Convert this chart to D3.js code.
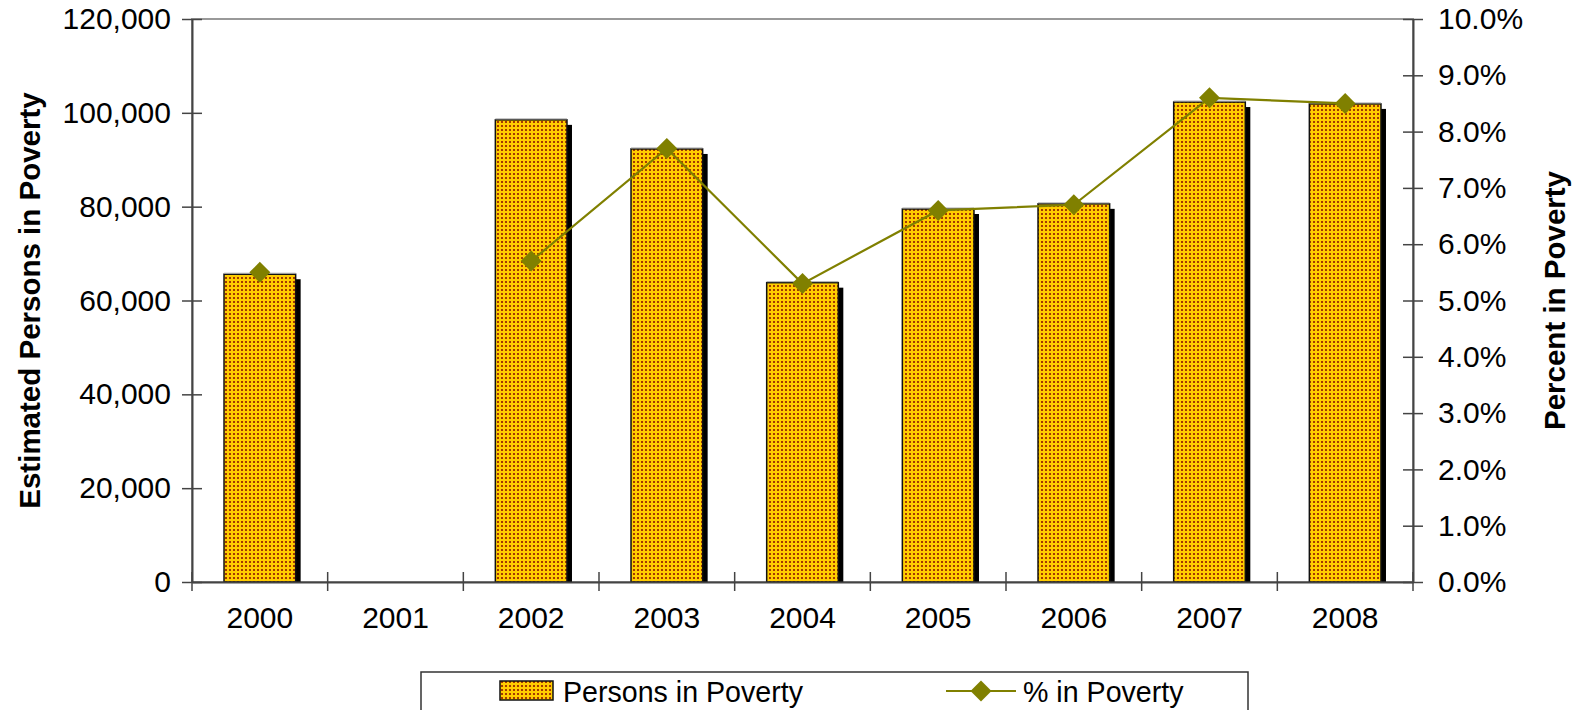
<!DOCTYPE html>
<html><head><meta charset="utf-8">
<script src="https://cdn.jsdelivr.net/npm/d3@7"></script>
<style>
html,body{margin:0;padding:0;background:#fff;}
svg{display:block;font-family:"Liberation Sans",Arial,sans-serif;}
</style></head>
<body>
<svg id="chart" width="1578" height="710"></svg>
<script>
const years = ["2000","2001","2002","2003","2004","2005","2006","2007","2008"];
const persons = [65600, null, 98500, 92300, 63800, 79500, 80600, 102300, 101900];
const pctPoverty = [5.5, null, 5.7, 7.7, 5.3, 6.6, 6.7, 8.6, 8.5];
const leftTicks = [0, 20000, 40000, 60000, 80000, 100000, 120000];
const rightTicks = [0,1,2,3,4,5,6,7,8,9,10];

const svg = d3.select("#chart");
const L = 192, R = 1413, T = 19, B = 582;

const defs = svg.append("defs");
const pat = defs.append("pattern").attr("id","dots").attr("patternUnits","userSpaceOnUse")
  .attr("width",4).attr("height",4);
pat.append("rect").attr("width",4).attr("height",4).attr("fill","#FFCC00");
pat.append("rect").attr("x",1).attr("y",1).attr("width",2).attr("height",2).attr("fill","#A33A00");

const x = d3.scaleBand().domain(years).range([L, R]).padding(0);
const y = d3.scaleLinear().domain([0,120000]).range([B, T]);
const y2 = d3.scaleLinear().domain([0,10]).range([B, T]);

svg.append("rect").attr("x",L).attr("y",T).attr("width",R-L).attr("height",B-T)
  .attr("fill","none").attr("stroke","#999").attr("stroke-width",2);

const barW = x.bandwidth()*0.528;
const data = years.map((yr,i)=>({yr, v:persons[i], p:pctPoverty[i]}));
const bars = data.filter(d=>d.v!==null);

svg.append("g").selectAll("rect").data(bars).join("rect")
  .attr("x", d=>x(d.yr)+x.bandwidth()/2-barW/2+5)
  .attr("y", d=>y(d.v)+5)
  .attr("width", barW)
  .attr("height", d=>B-y(d.v)-5)
  .attr("fill","#000");
svg.append("g").selectAll("rect").data(bars).join("rect")
  .attr("x", d=>x(d.yr)+x.bandwidth()/2-barW/2)
  .attr("y", d=>y(d.v))
  .attr("width", barW)
  .attr("height", d=>B-y(d.v))
  .attr("fill","url(#dots)")
  .attr("stroke","#111").attr("stroke-width",1.5);
svg.append("g").selectAll("line").data(bars).join("line")
  .attr("x1", d=>x(d.yr)+x.bandwidth()/2-barW/2)
  .attr("x2", d=>x(d.yr)+x.bandwidth()/2+barW/2)
  .attr("y1", d=>y(d.v)-1).attr("y2", d=>y(d.v)-1)
  .attr("stroke","#aaa").attr("stroke-width",1);

const axisColor = "#444";
const leftAxis = svg.append("g").attr("transform",`translate(${L},0)`)
  .call(d3.axisLeft(y).tickValues(leftTicks).tickFormat(d3.format(",")).tickSizeInner(10).tickSizeOuter(0).tickPadding(11));
const rightAxis = svg.append("g").attr("transform",`translate(${R},0)`)
  .call(d3.axisRight(y2).tickValues(rightTicks).tickFormat(d=>d3.format(".1f")(d)+"%").tickSizeInner(10).tickSizeOuter(0).tickPadding(15));
const bottomAxis = svg.append("g").attr("transform",`translate(0,${B})`)
  .call(d3.axisBottom(x).tickSize(0).tickPadding(25));
const bounds = years.map(yr=>x(yr)).concat([R]);
bottomAxis.selectAll(".bt").data(bounds).join("line").attr("class","bt")
  .attr("x1",d=>d).attr("x2",d=>d).attr("y1",-10).attr("y2",9)
  .attr("stroke",axisColor).attr("stroke-width",1.5);

[leftAxis,rightAxis,bottomAxis].forEach(g=>{
  g.select(".domain").attr("stroke",axisColor).attr("stroke-width",2);
  g.selectAll(".tick line").attr("stroke",axisColor).attr("stroke-width",1.5);
  g.selectAll("text").attr("font-size",30).attr("fill","#000")
    .attr("font-family","'Liberation Sans',Arial,sans-serif");
});
bottomAxis.selectAll(".tick text").attr("dy","0.71em");
leftAxis.selectAll(".tick line").attr("x1",-10).attr("x2",10);
rightAxis.selectAll(".tick line").attr("x1",-10).attr("x2",10);

const lineGen = d3.line().defined(d=>d.p!==null)
  .x(d=>x(d.yr)+x.bandwidth()/2).y(d=>y2(d.p));
svg.append("path").datum(data).attr("d",lineGen)
  .attr("fill","none").attr("stroke","#808000").attr("stroke-width",2.2);
const pts = data.filter(d=>d.p!==null);
svg.append("g").selectAll("path").data(pts).join("path")
  .attr("d", d3.symbol().type(d3.symbolSquare).size(220)())
  .attr("transform",d=>`translate(${x(d.yr)+x.bandwidth()/2},${y2(d.p)}) rotate(45)`)
  .attr("fill","#808000");

svg.append("text").attr("transform",`translate(40,${(T+B)/2}) rotate(-90)`)
  .attr("text-anchor","middle").attr("font-size",29.5).attr("font-weight","bold")
  .text("Estimated Persons in Poverty");
svg.append("text").attr("transform",`translate(1565,${(T+B)/2}) rotate(-90)`)
  .attr("text-anchor","middle").attr("font-size",29.5).attr("font-weight","bold")
  .text("Percent in Poverty");

const lg = svg.append("g");
lg.append("rect").attr("x",421).attr("y",672).attr("width",827).attr("height",60)
  .attr("fill","#fff").attr("stroke","#333").attr("stroke-width",1.5);
lg.append("rect").attr("x",500).attr("y",681).attr("width",53).attr("height",19)
  .attr("fill","url(#dots)").attr("stroke","#111").attr("stroke-width",1.5);
lg.append("text").attr("x",563).attr("y",692).attr("dy","0.35em").attr("font-size",28.6).text("Persons in Poverty");
lg.append("line").attr("x1",946).attr("x2",1016).attr("y1",691).attr("y2",691)
  .attr("stroke","#808000").attr("stroke-width",2.2);
lg.append("path").attr("d", d3.symbol().type(d3.symbolSquare).size(220)())
  .attr("transform","translate(981,691) rotate(45)").attr("fill","#808000");
lg.append("text").attr("x",1023).attr("y",692).attr("dy","0.35em").attr("font-size",28.6).text("% in Poverty");
</script>
</body></html>
